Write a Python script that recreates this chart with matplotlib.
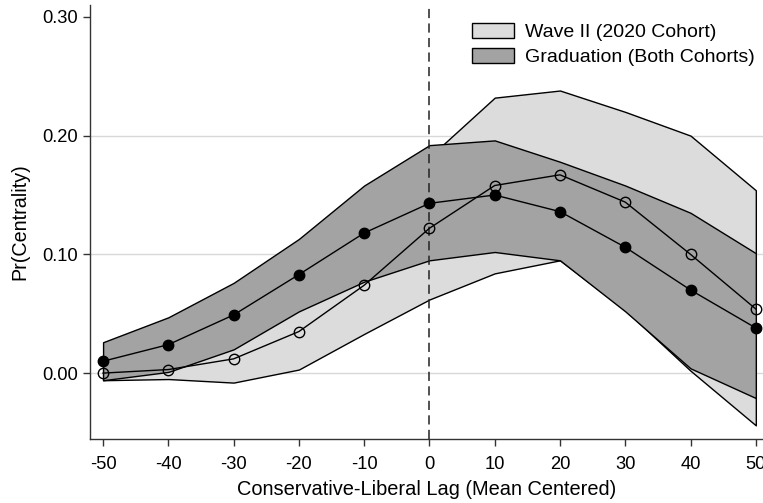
import matplotlib
matplotlib.use("Agg")

import matplotlib.pyplot as plt
from matplotlib.patches import Patch

plt.rcParams["font.family"] = ["Liberation Sans", "DejaVu Sans"]

# =========================================================
# DATA
# =========================================================

lag = [-50, -40, -30, -20, -10, 0, 10, 20, 30, 40, 50]

grad_mean = [0.010, 0.024, 0.049, 0.083, 0.118, 0.143, 0.150, 0.136, 0.106, 0.070, 0.038]
grad_lo   = [-0.006, 0.001, 0.020, 0.052, 0.077, 0.095, 0.102, 0.095, 0.052, 0.004, -0.021]
grad_hi   = [0.026, 0.047, 0.076, 0.113, 0.158, 0.192, 0.196, 0.178, 0.158, 0.135, 0.101]

wave_mean = [0.000, 0.003, 0.012, 0.035, 0.074, 0.122, 0.158, 0.167, 0.144, 0.100, 0.054]
wave_lo   = [-0.006, -0.005, -0.008, 0.003, 0.033, 0.062, 0.084, 0.095, 0.053, 0.002, -0.044]
wave_hi   = [0.006, 0.011, 0.032, 0.067, 0.115, 0.182, 0.232, 0.238, 0.220, 0.200, 0.154]

x_ticks = [-50, -40, -30, -20, -10, 0, 10, 20, 30, 40, 50]
y_ticks = [0.00, 0.10, 0.20, 0.30]

light_grey = "#dcdcdc"
dark_grey  = "#a3a3a3"

# =========================================================
# FIGURE
# =========================================================

fig = plt.figure(figsize=(7.63, 5.03), dpi=100)
ax = fig.add_axes([0.118, 0.127, 0.882, 0.863])

# grid lines (skip the top one)
for yv in y_ticks[:-1]:
    ax.axhline(yv, color="#d8d8d8", lw=1.0, zorder=0)

# confidence bands
ax.fill_between(lag, wave_lo, wave_hi, facecolor=light_grey,
                edgecolor="black", lw=1.0, zorder=1)
ax.fill_between(lag, grad_lo, grad_hi, facecolor=dark_grey,
                edgecolor="black", lw=1.0, zorder=2)

# reference line at zero lag
ax.axvline(0, color="#222222", lw=1.1, linestyle=(0, (6, 3.5)), zorder=3)

# point estimates
ax.plot(lag, wave_mean, color="black", lw=1.0, marker="o", ms=7.5,
        mfc="none", mec="black", mew=1.0, zorder=4)
ax.plot(lag, grad_mean, color="black", lw=1.0, marker="o", ms=7.5,
        mfc="black", mec="black", zorder=5)

# =========================================================
# AXES
# =========================================================

ax.set_xlim(-52, 51.1)
ax.set_ylim(-0.0556, 0.31)
ax.set_xticks(x_ticks)
ax.set_xticklabels([str(v) for v in x_ticks])
ax.set_yticks(y_ticks)
ax.set_yticklabels([f"{v:.2f}" for v in y_ticks])
ax.tick_params(direction="out", length=5, width=1.0, labelsize=13.2,
               color="#333333", pad=4)
ax.tick_params(axis="x", pad=7)
ax.spines["top"].set_visible(False)
ax.spines["right"].set_visible(False)
for s in ("left", "bottom"):
    ax.spines[s].set_color("#333333")
    ax.spines[s].set_linewidth(1.0)

ax.set_xlabel("Conservative-Liberal Lag (Mean Centered)", fontsize=14.4, labelpad=5.5)
ax.set_ylabel("Pr(Centrality)", fontsize=14.2, labelpad=9)

# =========================================================
# LEGEND
# =========================================================

handles = [
    Patch(facecolor=light_grey, edgecolor="black", lw=1.0, label="Wave II (2020 Cohort)"),
    Patch(facecolor=dark_grey, edgecolor="black", lw=1.0, label="Graduation (Both Cohorts)"),
]
ax.legend(handles=handles, loc="upper left", bbox_to_anchor=(0.545, 0.995),
          frameon=False, fontsize=14, handlelength=2.15, handleheight=0.82,
          handletextpad=0.55, labelspacing=0.35, borderpad=0.3)

fig.savefig("out.png", dpi=100)
